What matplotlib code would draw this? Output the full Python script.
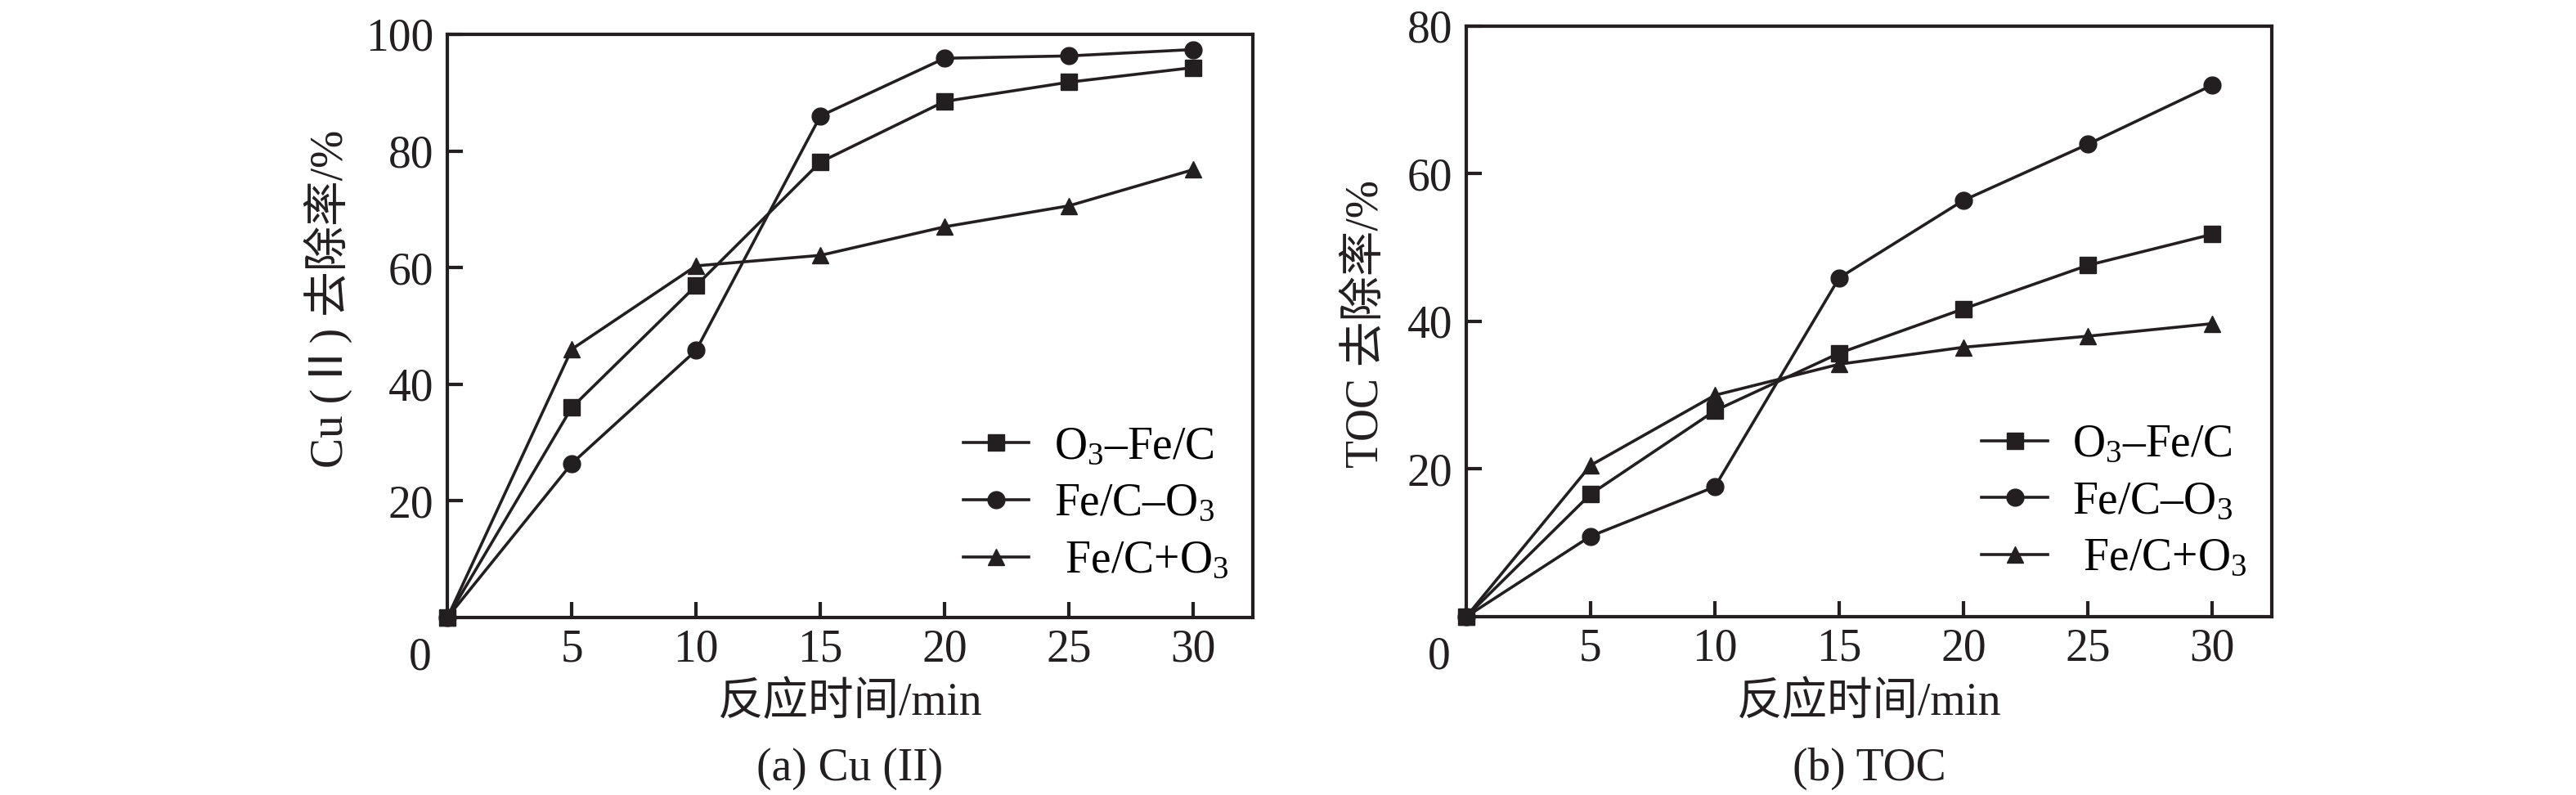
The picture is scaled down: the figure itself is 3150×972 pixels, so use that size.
import matplotlib
matplotlib.use("Agg")
import matplotlib.pyplot as plt

plt.rcParams['font.family'] = ['Liberation Serif', 'Noto Sans CJK SC']
plt.rcParams['mathtext.fontset'] = 'custom'
plt.rcParams['mathtext.rm'] = 'Liberation Serif'
plt.rcParams['mathtext.default'] = 'regular'

# reaction time, min
t = [0, 5, 10, 15, 20, 25, 30]

# (a) Cu(II) removal, %
cu_o3_fec = [0, 36.0, 56.9, 78.1, 88.5, 91.8, 94.3]
cu_fec_o3 = [0, 26.4, 45.8, 86.0, 95.9, 96.3, 97.4]
cu_fec_plus = [0, 46.0, 60.3, 62.1, 67.0, 70.6, 76.8]

# (b) TOC removal, %
toc_o3_fec = [0, 16.6, 27.9, 35.7, 41.7, 47.6, 51.8]
toc_fec_o3 = [0, 10.9, 17.6, 45.9, 56.4, 64.0, 72.0]
toc_fec_plus = [0, 20.5, 30.0, 34.2, 36.5, 38.0, 39.7]

labels = ['O$_3$–Fe/C', 'Fe/C–O$_3$', ' Fe/C+O$_3$']
markers = ['s', 'o', '^']

ink = '#231f20'
fs = 40

fig = plt.figure(figsize=(31.5, 9.72), dpi=100)
ax1 = fig.add_axes([0.1737, 0.2233, 0.3127, 0.7335])
ax2 = fig.add_axes([0.5692, 0.2243, 0.3127, 0.7428])


def draw(ax, series, ymax, yticks, ylabel, ylab_xy):
    for ys, m, lab in zip(series, markers, labels):
        ax.plot(t, ys, color=ink, lw=2.6, marker=m, ms=15, mfc=ink, mec=ink,
                label=lab, clip_on=False, zorder=3)
    ax.set_xlim(0, 32.4)
    ax.set_ylim(0, ymax)
    ax.set_xticks([5, 10, 15, 20, 25, 30])
    ax.set_yticks(yticks)
    for s in ax.spines.values():
        s.set_linewidth(3)
        s.set_color(ink)
    ax.tick_params(direction='in', length=14, width=3, color=ink,
                   labelsize=fs, labelcolor=ink)
    ax.tick_params(axis='x', pad=10)
    ax.tick_params(axis='y', pad=12)
    ax.annotate('0', xy=(0, 0), xycoords='axes fraction', xytext=(-24, -17),
                textcoords='offset points', ha='center', va='top',
                fontsize=fs, color=ink)
    ax.set_xlabel('反应时间/min', fontsize=fs, color=ink, va='center')
    ax.xaxis.set_label_coords(0.5, -0.147)
    ax.set_ylabel(ylabel, fontsize=fs, color=ink, va='center', ha='center')
    ax.yaxis.set_label_coords(*ylab_xy)
    ax.legend(loc='center left', bbox_to_anchor=(0.64, 0.194), frameon=False,
              fontsize=fs, handlelength=1.45, handletextpad=0.55,
              labelspacing=0.32, borderaxespad=0, borderpad=0)


draw(ax1, [cu_o3_fec, cu_fec_o3, cu_fec_plus], 100, [20, 40, 60, 80, 100],
     'Cu (Ⅱ) 去除率/%', (-0.148, 0.547))
draw(ax2, [toc_o3_fec, toc_fec_o3, toc_fec_plus], 80, [20, 40, 60, 80],
     'TOC 去除率/%', (-0.124, 0.496))

fig.text(0.3300, 0.0329, '(a) Cu (II)', fontsize=fs, color=ink, ha='center', va='center')
fig.text(0.7255, 0.0329, '(b) TOC', fontsize=fs, color=ink, ha='center', va='center')

fig.savefig('out.png', dpi=100)
